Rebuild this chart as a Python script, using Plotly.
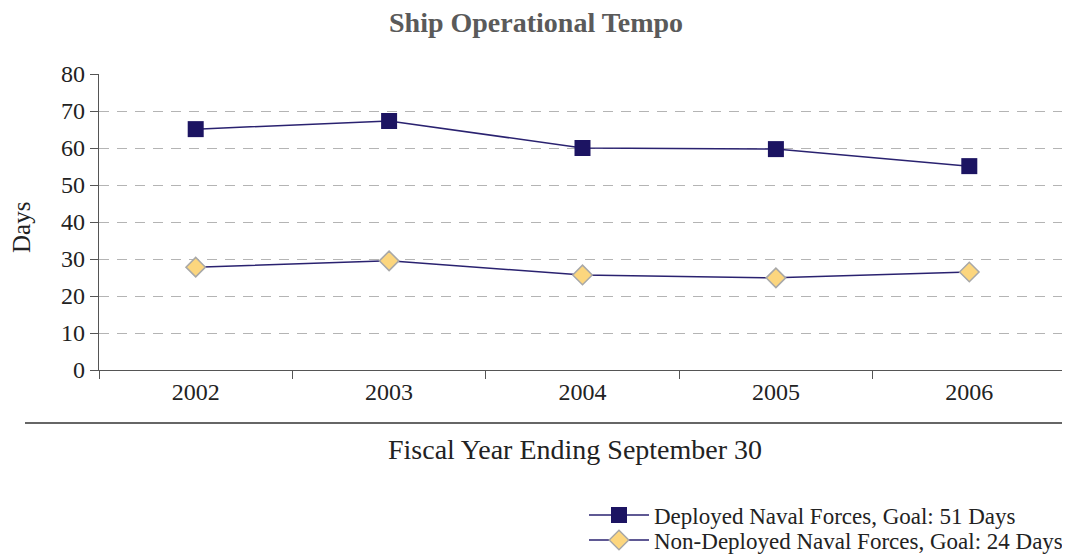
import plotly.graph_objects as go

years = ["2002", "2003", "2004", "2005", "2006"]
deployed = [65.1, 67.3, 60.0, 59.7, 55.1]
non_deployed = [27.8, 29.5, 25.7, 24.9, 26.5]
y_ticks = [0, 10, 20, 30, 40, 50, 60, 70, 80]

FONT = "Liberation Serif"
TXT = "#222"
fig = go.Figure()
fig.add_trace(go.Scatter(
    x=years, y=deployed, mode="lines+markers",
    name="Deployed Naval Forces, Goal: 51 Days", legend="legend",
    line=dict(color="#2a2270", width=1.5),
    marker=dict(symbol="square", size=16, color="#1c1462"),
))
fig.add_trace(go.Scatter(
    x=years, y=non_deployed, mode="lines+markers",
    name="Non-Deployed Naval Forces, Goal: 24 Days", legend="legend2",
    line=dict(color="#2a2270", width=1.5),
    marker=dict(symbol="diamond", size=15, color="#fcd67e",
                line=dict(color="#a8a8a8", width=1.5)),
))

# plot area: page px x 99..1066, y 74..370 (page has an 8px body margin)
leg_common = dict(xanchor="left", yanchor="middle", itemwidth=60,
                  font=dict(family=FONT, size=23, color=TXT),
                  bgcolor="rgba(0,0,0,0)")
fig.update_layout(
    width=1062, height=546,
    margin=dict(l=91, r=4, t=66, b=184, autoexpand=False),
    plot_bgcolor="white", paper_bgcolor="white",
    font=dict(family=FONT, size=22, color=TXT),
    showlegend=True,
    legend=dict(x=(584 - 99) / 967, y=-(515 - 370) / 296, **leg_common),
    legend2=dict(x=(584 - 99) / 967, y=-(540 - 370) / 296, **leg_common),
    annotations=[
        dict(text="<b>Ship Operational Tempo</b>", x=(536 - 99) / 967, xref="paper",
             y=(370 - 22) / 296, yref="paper", yanchor="middle", showarrow=False,
             font=dict(family=FONT, size=28, color="#5a5a5a")),
        dict(text="Fiscal Year Ending September 30", x=(575 - 99) / 967, xref="paper",
             y=-(449 - 370) / 296, yref="paper", showarrow=False, yanchor="middle",
             font=dict(family=FONT, size=28, color=TXT)),
        dict(text="Days", x=(21 - 99) / 967, xref="paper", y=(370 - 228) / 296,
             yref="paper", textangle=-90, showarrow=False,
             xanchor="center", yanchor="middle",
             font=dict(family=FONT, size=25, color=TXT)),
    ],
    shapes=[dict(type="line", xref="paper", yref="paper",
                 x0=(25 - 99) / 967, x1=1.0,
                 y0=-(423 - 370) / 296, y1=-(423 - 370) / 296,
                 line=dict(color="#333", width=1.5))],
)

fig.update_xaxes(
    type="category", range=[-0.5, 4.5], automargin=False,
    showline=True, linecolor="#555", linewidth=1.2,
    ticks="outside", ticklen=8, tickcolor="#555",
    tickson="boundaries", showgrid=False,
    tickfont=dict(family=FONT, size=24, color=TXT),
)
fig.update_yaxes(
    range=[0, 80], tickvals=y_ticks, automargin=False,
    showline=True, linecolor="#555", linewidth=1.2,
    ticks="outside", ticklen=8, tickcolor="#555",
    showgrid=True, gridcolor="#b4b4b4", griddash="10px,8px", gridwidth=1.3,
    zeroline=False,
    tickfont=dict(family=FONT, size=24, color=TXT),
)

fig.write_html("out.html")
